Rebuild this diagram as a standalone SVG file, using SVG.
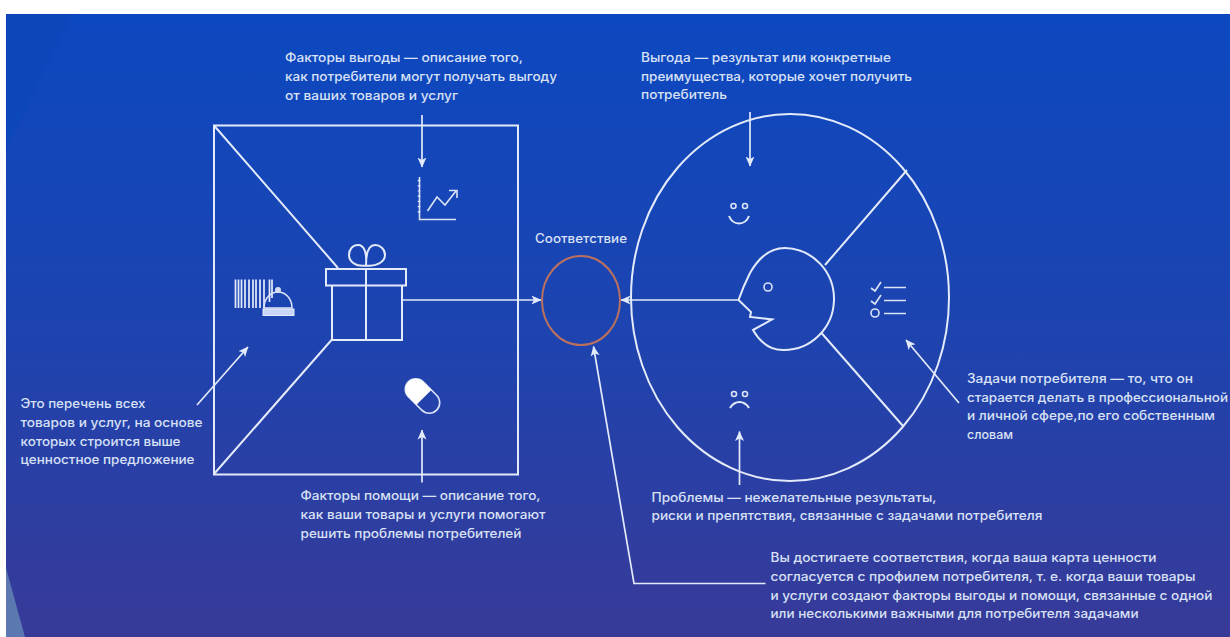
<svg xmlns="http://www.w3.org/2000/svg" width="1230" height="637" viewBox="0 0 1230 637">
<style>
.l{fill:none;stroke:#e3eafa;stroke-width:2}
.t{fill:none;stroke:#dbe4f8;stroke-width:1.600}
.a{fill:none;stroke:#e3eafa;stroke-width:1.700}
text{font-family:"Inter","Liberation Sans",sans-serif;font-size:12.600px;font-weight:500;fill:#d8e1f5}
</style>
<defs>
<linearGradient id="bg" x1="0" y1="0" x2="0" y2="1"><stop offset="0" stop-color="#0c48c0"/><stop offset="0.5" stop-color="#1d44b0"/><stop offset="1" stop-color="#383a98"/></linearGradient>
<marker id="ah" viewBox="0 0 10 10" refX="9.500" refY="5" markerWidth="10" markerHeight="10" markerUnits="userSpaceOnUse" orient="auto"><path d="M0 0.500L10 5L0 9.500L2.500 5Z" fill="#e3eafa"/></marker>
</defs>
<rect width="1230" height="637" fill="#fff"/>
<rect x="6" y="14" width="1224" height="623" fill="url(#bg)"/>
<path d="M6 14H73L6 148Z" fill="#0b46bb"/>
<path d="M6 568L25 637H6Z" fill="#5c78b0"/>
<g id="value-map">
<rect class="l" x="214" y="125.500" width="304" height="349"/>
<path class="l" d="M214 125.500L338 268M331.500 340L214 474"/>
</g>
<g id="gift">
<path class="l" d="M326 269H406V285.500H326ZM332 285.500V340H402V285.500M366 269V340"/>
<path class="l" d="M366 265.500C356 267 349 262 349 255C349 249 353 245 358 245C364 245 367 252 366 265.500C376 267 385 262 385 255C385 249 380 245 375 245C369 245 366 252 366 265.500Z"/>
</g>
<g id="chart"><path class="t" d="M419.500 177V219.500H456"/><path d="M419 180V216" stroke="#e3eafa" stroke-width="2.600" stroke-dasharray="1.200 4" fill="none"/><path class="t" d="M427.500 211L437 197L445 205L456 191"/><path class="t" d="M449 190.500H457V198"/></g>
<g id="barcode"><path d="M235.500 279.500V308M238.500 279.500V308M241.500 279.500V308M245 279.500V308M249 279.500V308M253 279.500V308M256 279.500V308M260 279.500V308M264 279.500V308M269.500 279.500V302M272 279.500V298" stroke="#e3eafa" stroke-width="1.700" fill="none"/>
<path class="t" d="M264 308C264 298 271 292 278 292C285 292 292 298 292 308Z" fill="#1e46b2"/><rect x="263" y="309" width="31" height="6.500" fill="#c9d6f5" stroke="#e3eafa"/><circle cx="278" cy="290" r="3" fill="#d5def5"/></g>
<g id="pill"><rect class="t" x="-20" y="-10.500" width="40" height="21" rx="10.500" transform="translate(422.500 396) rotate(45)"/><path d="M-9.500 -10.500H2V10.500H-9.500A10.500 10.500 0 0 1 -9.500 -10.500Z" fill="#fff" transform="translate(422.500 396) rotate(45)"/></g>
<g id="match"><ellipse cx="581" cy="300.500" rx="39" ry="44.500" fill="none" stroke="#b9705f" stroke-width="2"/><text x="535" y="243" textLength="92" lengthAdjust="spacingAndGlyphs">Соответствие</text></g>
<g id="customer-profile">
<ellipse class="l" cx="790" cy="297.500" rx="159" ry="183.500"/>
<path class="l" d="M907 170L825 265M903 426L821.500 333"/>
<path class="l" d="M738.500 300C742 290 746 281 750 273C759 257 771 248 785 248A50 51 0 0 1 783 350C770 350 760 342 753 330L772 319.500L750 317L751 312Z"/>
<circle class="t" cx="768" cy="287" r="4"/>
</g>
<g id="smile"><circle class="t" cx="733.500" cy="206" r="2.500"/><circle class="t" cx="745" cy="206" r="2.500"/><path class="l" d="M729 216C733 226 745 226 749 216"/></g>
<g id="sad"><circle class="t" cx="734" cy="394" r="2.500"/><circle class="t" cx="745" cy="394" r="2.500"/><path class="l" d="M730 408C735 400 744 400 749 408"/></g>
<g id="tasks"><path class="t" d="M871 288L875 291L881 282M871 301L875 304L881 295"/><circle class="t" cx="875" cy="313" r="4"/><path class="t" d="M884 287.500H906M884 300.500H906M884 313.500H906"/></g>
<g id="connectors">
<path class="a" marker-end="url(#ah)" d="M422 115V167"/>
<path class="a" marker-end="url(#ah)" d="M422 482.500V430"/>
<path class="a" marker-end="url(#ah)" d="M197 405L248 347"/>
<path class="a" marker-end="url(#ah)" d="M402 300H541"/>
<path class="a" marker-end="url(#ah)" d="M738.500 300H621"/>
<path class="a" marker-end="url(#ah)" d="M750 112V166"/>
<path class="a" marker-end="url(#ah)" d="M739.500 485V431.500"/>
<path class="a" marker-end="url(#ah)" d="M959 403L906 340"/>
<path class="a" marker-end="url(#ah)" d="M765.500 583.500H634L593.500 346.500"/>
</g>
<g id="labels">
<text x="285" y="62" textLength="238" lengthAdjust="spacingAndGlyphs">Факторы выгоды — описание того,</text>
<text x="285" y="81" textLength="272" lengthAdjust="spacingAndGlyphs">как потребители могут получать выгоду</text>
<text x="285" y="100" textLength="173" lengthAdjust="spacingAndGlyphs">от ваших товаров и услуг</text>
<text x="641" y="62" textLength="250" lengthAdjust="spacingAndGlyphs">Выгода — результат или конкретные</text>
<text x="641" y="81" textLength="271" lengthAdjust="spacingAndGlyphs">преимущества, которые хочет получить</text>
<text x="641" y="99" textLength="86" lengthAdjust="spacingAndGlyphs">потребитель</text>
<text x="20.500" y="407.500" textLength="125" lengthAdjust="spacingAndGlyphs">Это перечень всех</text>
<text x="20.500" y="426.500" textLength="182" lengthAdjust="spacingAndGlyphs">товаров и услуг, на основе</text>
<text x="20.500" y="445.500" textLength="160" lengthAdjust="spacingAndGlyphs">которых строится выше</text>
<text x="20.500" y="464" textLength="174" lengthAdjust="spacingAndGlyphs">ценностное предложение</text>
<text x="967" y="382.500" textLength="226" lengthAdjust="spacingAndGlyphs">Задачи потребителя — то, что он</text>
<text x="967" y="401.500" textLength="261" lengthAdjust="spacingAndGlyphs">старается делать в профессиональной</text>
<text x="967" y="420" textLength="248" lengthAdjust="spacingAndGlyphs">и личной сфере,по его собственным</text>
<text x="967" y="438.500" textLength="46" lengthAdjust="spacingAndGlyphs">словам</text>
<text x="300.500" y="500" textLength="240" lengthAdjust="spacingAndGlyphs">Факторы помощи — описание того,</text>
<text x="300.500" y="518.500" textLength="245" lengthAdjust="spacingAndGlyphs">как ваши товары и услуги помогают</text>
<text x="300.500" y="537.500" textLength="221" lengthAdjust="spacingAndGlyphs">решить проблемы потребителей</text>
<text x="651.500" y="502" textLength="285" lengthAdjust="spacingAndGlyphs">Проблемы — нежелательные результаты,</text>
<text x="651.500" y="520" textLength="391" lengthAdjust="spacingAndGlyphs">риски и препятствия, связанные с задачами потребителя</text>
<text x="770.500" y="561.500" textLength="386" lengthAdjust="spacingAndGlyphs">Вы достигаете соответствия, когда ваша карта ценности</text>
<text x="770.500" y="580.500" textLength="425" lengthAdjust="spacingAndGlyphs">согласуется с профилем потребителя, т. е. когда ваши товары</text>
<text x="770.500" y="599.500" textLength="442" lengthAdjust="spacingAndGlyphs">и услуги создают факторы выгоды и помощи, связанные с одной</text>
<text x="770.500" y="618" textLength="368" lengthAdjust="spacingAndGlyphs">или несколькими важными для потребителя задачами</text>
</g>
</svg>
